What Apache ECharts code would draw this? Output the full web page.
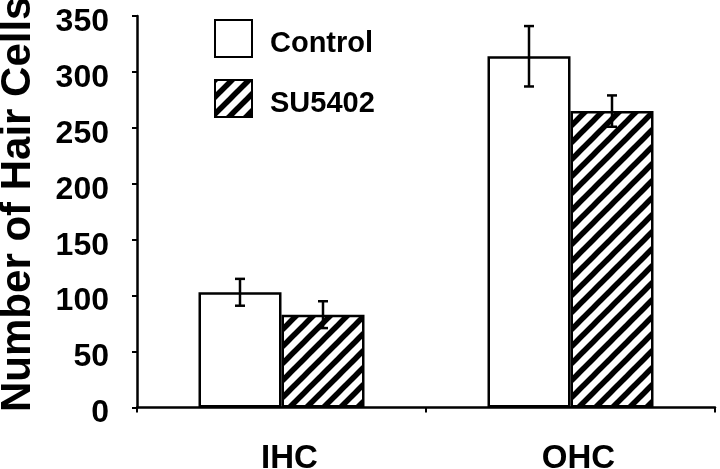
<!DOCTYPE html>
<html>
<head>
<meta charset="utf-8">
<script src="https://cdn.jsdelivr.net/npm/echarts@6/dist/echarts.min.js"></script>
<style>
html,body{margin:0;padding:0;background:#fff;}
#chart{width:720px;height:469px;}
</style>
</head>
<body>
<div id="chart"></div>
<script>
const categories = ['IHC', 'OHC'];
const seriesNames = ['Control', 'SU5402'];
const controlMeans = [103, 314];
const controlErrors = [12, 27];
const su5402Means = [83, 265];
const su5402Errors = [12, 14];
const yMin = 0, yMax = 350, yInterval = 50;

const FONT = '"Liberation Sans", Arial, sans-serif';
const BAR_W = 83;

function makeHatch() {
  const P = 17;
  const c = document.createElement('canvas');
  c.width = P; c.height = P;
  const g = c.getContext('2d');
  g.fillStyle = '#fff';
  g.fillRect(0, 0, P, P);
  g.strokeStyle = '#000';
  g.lineWidth = 5.5;
  g.lineCap = 'square';
  [[-P, 0], [0, 0], [P, 0]].forEach(function (o) {
    g.beginPath();
    g.moveTo(o[0] - 2, P + 2);
    g.lineTo(o[0] + P + 2, -2);
    g.stroke();
  });
  return c;
}
const hatch = { image: makeHatch(), repeat: 'repeat' };

function errData(means, errs) {
  return means.map(function (m, i) { return [i, m, errs[i]]; });
}
function errRender(offset) {
  return function (params, api) {
    const i = api.value(0), m = api.value(1), e = api.value(2);
    const top = api.coord([i, m + e]);
    const bot = api.coord([i, m - e]);
    const x = top[0] + offset;
    const cap = 5;
    const st = { stroke: '#000', lineWidth: 2.5 };
    return {
      type: 'group',
      children: [
        { type: 'line', shape: { x1: x, y1: top[1], x2: x, y2: bot[1] }, style: st },
        { type: 'line', shape: { x1: x - cap, y1: top[1], x2: x + cap, y2: top[1] }, style: st },
        { type: 'line', shape: { x1: x - cap, y1: bot[1], x2: x + cap, y2: bot[1] }, style: st }
      ]
    };
  };
}

const chart = echarts.init(document.getElementById('chart'), null, { renderer: 'canvas' });
chart.setOption({
  animation: false,
  backgroundColor: '#fff',
  grid: { left: 137, right: 5, top: 16, bottom: 61.5, containLabel: false, outerBoundsMode: 'none' },
  legend: {
    orient: 'vertical',
    left: 214, top: 19,
    padding: 0,
    itemWidth: 37, itemHeight: 37,
    itemGap: 21,
    icon: 'rect',
    selectedMode: false,
    formatter: '{t|{name}}',
    textStyle: {
      fontFamily: FONT, fontWeight: 'bold', fontSize: 29, color: '#000',
      rich: { t: { fontFamily: FONT, fontWeight: 'bold', fontSize: 29, color: '#000', padding: [10, 0, 0, 13] } }
    },
    data: seriesNames
  },
  xAxis: {
    type: 'category',
    data: categories,
    axisLine: { lineStyle: { color: '#000', width: 2.5 } },
    axisTick: { show: true, length: 5, lineStyle: { color: '#000', width: 2 } },
    axisLabel: { color: '#000', fontFamily: FONT, fontWeight: 'bold', fontSize: 33, margin: 35, padding: [0, 0, 0, 16] }
  },
  yAxis: {
    type: 'value',
    min: yMin, max: yMax, interval: yInterval,
    name: 'Number of Hair Cells',
    nameLocation: 'middle',
    nameGap: 98,
    nameTextStyle: { color: '#000', fontFamily: FONT, fontWeight: 'bold', fontSize: 42, padding: [0, 0, 0, 15] },
    axisLine: { show: true, lineStyle: { color: '#000', width: 2.5 } },
    axisTick: { show: true, length: 5, lineStyle: { color: '#000', width: 2 } },
    splitLine: { show: false },
    axisLabel: {
      color: '#000', fontFamily: FONT, fontWeight: 'bold', fontSize: 32, margin: 28,
      formatter: '{v|{value}}',
      rich: { v: { fontFamily: FONT, fontWeight: 'bold', fontSize: 32, color: '#000', padding: [12, 0, 0, 0] } }
    }
  },
  series: [
    {
      name: seriesNames[0], type: 'bar', data: controlMeans,
      barWidth: BAR_W, barGap: '0%',
      itemStyle: { color: '#fff', borderColor: '#000', borderWidth: 2.5 }
    },
    {
      name: seriesNames[1], type: 'bar', data: su5402Means,
      barWidth: BAR_W, barGap: '0%',
      itemStyle: { color: hatch, borderColor: '#000', borderWidth: 2.5 }
    },
    {
      type: 'custom', renderItem: errRender(-BAR_W / 2), data: errData(controlMeans, controlErrors), z: 10, silent: true
    },
    {
      type: 'custom', renderItem: errRender(BAR_W / 2), data: errData(su5402Means, su5402Errors), z: 10, silent: true
    }
  ]
});
</script>
</body>
</html>
